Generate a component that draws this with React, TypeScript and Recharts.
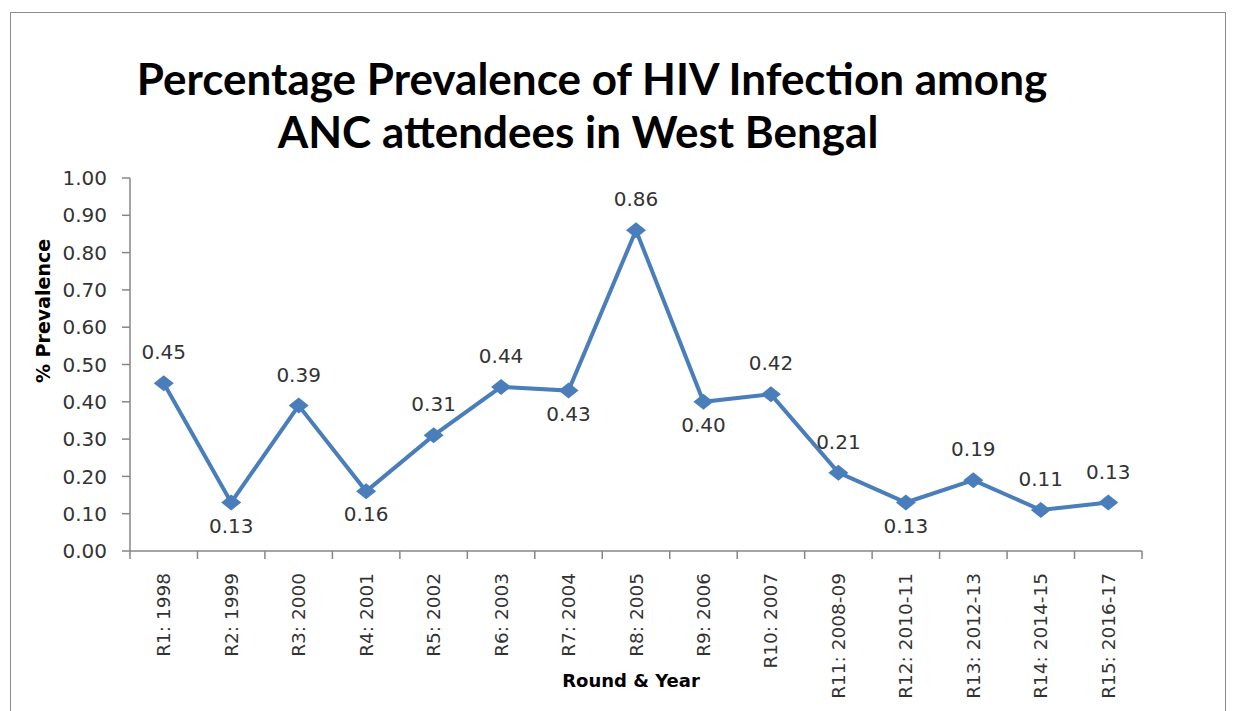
import React from "react";
import { LineChart, Line, XAxis, YAxis, LabelList, Label } from "recharts";

const ROUNDS = [
  "R1: 1998",
  "R2: 1999",
  "R3: 2000",
  "R4: 2001",
  "R5: 2002",
  "R6: 2003",
  "R7: 2004",
  "R8: 2005",
  "R9: 2006",
  "R10: 2007",
  "R11: 2008-09",
  "R12: 2010-11",
  "R13: 2012-13",
  "R14: 2014-15",
  "R15: 2016-17",
];
const PREVALENCE = [
  0.45, 0.13, 0.39, 0.16, 0.31, 0.44, 0.43, 0.86, 0.4, 0.42, 0.21, 0.13, 0.19,
  0.11, 0.13,
];
const Y_TICKS = [0, 0.1, 0.2, 0.3, 0.4, 0.5, 0.6, 0.7, 0.8, 0.9, 1.0];
// points whose value label sits under the marker instead of above it
const LABELS_BELOW = [1, 3, 6, 8, 11];

const data = ROUNDS.map((round, i) => ({ round, value: PREVALENCE[i] }));

const BLUE = "#4a7ebb";
const AXIS_GREY = "#868686";
const TEXT = "#333333";

const W = 1241;
const H = 711;
const PLOT_LEFT = 130;
const PLOT_RIGHT = 1142;
const HALF_STEP = (PLOT_RIGHT - PLOT_LEFT) / ROUNDS.length / 2;
const TICK_SIZE = 8;
const TICK_MARGIN = 14;

const titleStyle: React.CSSProperties = {
  position: "absolute",
  left: 0,
  textAlign: "center",
  fontFamily: "Lato",
  fontWeight: 700,
  fontSize: 44,
  lineHeight: "52px",
  color: "#000",
  whiteSpace: "nowrap",
};

function RoundTick(props: any) {
  const { x, y, payload, index } = props;
  const top = y - TICK_MARGIN - TICK_SIZE;
  const last = index === ROUNDS.length - 1;
  return (
    <g>
      <line x1={x - HALF_STEP} y1={top} x2={x - HALF_STEP} y2={top + TICK_SIZE} stroke={AXIS_GREY} strokeWidth={1.5} />
      {last && (
        <line x1={x + HALF_STEP} y1={top} x2={x + HALF_STEP} y2={top + TICK_SIZE} stroke={AXIS_GREY} strokeWidth={1.5} />
      )}
      <text
        x={x}
        y={y}
        transform={`rotate(-90, ${x}, ${y})`}
        textAnchor="end"
        dominantBaseline="central"
        fontFamily="DejaVu Sans"
        fontSize={18.5}
        fill={TEXT}
      >
        {payload.value}
      </text>
    </g>
  );
}

function Diamond(props: any) {
  const { cx, cy, index } = props;
  if (cx == null || cy == null) return null;
  return (
    <polygon
      key={`d-${index}`}
      points={`${cx},${cy - 8} ${cx + 10},${cy} ${cx},${cy + 8} ${cx - 10},${cy}`}
      fill={BLUE}
    />
  );
}

function ValueLabel(props: any) {
  const { x, y, value, index } = props;
  const below = LABELS_BELOW.includes(index);
  return (
    <text
      x={x}
      y={below ? y + 30 : y - 24}
      textAnchor="middle"
      fontFamily="DejaVu Sans"
      fontSize={20}
      fill={TEXT}
    >
      {Number(value).toFixed(2)}
    </text>
  );
}

export default function App() {
  return (
    <div style={{ position: "absolute", left: 0, top: 0, width: W, height: H, overflow: "hidden", background: "#fff" }}>
      <div
        style={{
          position: "absolute",
          left: 10,
          top: 12,
          width: 1214,
          height: 760,
          border: "1.5px solid #8c8c8c",
        }}
      />
      <div style={{ ...titleStyle, top: 52, width: 1184 }}>
        Percentage Prevalence of HIV Infection among
      </div>
      <div style={{ ...titleStyle, top: 105, width: 1156 }}>
        ANC attendees in West Bengal
      </div>
      <div style={{ position: "absolute", left: 0, top: 0 }}>
        <LineChart
          width={W}
          height={H}
          data={data}
          margin={{ top: 178, right: W - PLOT_RIGHT, left: PLOT_LEFT - 80, bottom: 0 }}
        >
          <XAxis
            dataKey="round"
            height={160}
            interval={0}
            padding={{ left: HALF_STEP, right: HALF_STEP }}
            tickLine={false}
            tickSize={TICK_SIZE}
            tickMargin={TICK_MARGIN}
            axisLine={{ stroke: AXIS_GREY, strokeWidth: 1.5 }}
            tick={<RoundTick />}
          >
            <Label
              content={() => (
                <text x={631} y={687} textAnchor="middle" fontFamily="DejaVu Sans" fontWeight="bold" fontSize={18} fill="#000">
                  Round &amp; Year
                </text>
              )}
            />
          </XAxis>
          <YAxis
            width={80}
            domain={[0, 1]}
            ticks={Y_TICKS}
            interval={0}
            tickFormatter={(v: number) => v.toFixed(2)}
            tickSize={TICK_SIZE}
            tickMargin={15}
            axisLine={{ stroke: AXIS_GREY, strokeWidth: 1.5 }}
            tickLine={{ stroke: AXIS_GREY, strokeWidth: 1.5 }}
            tick={{ fontFamily: "DejaVu Sans", fontSize: 20, fill: TEXT }}
          >
            <Label
              content={() => (
                <text
                  x={43}
                  y={311}
                  transform="rotate(-90, 43, 311)"
                  textAnchor="middle"
                  dominantBaseline="central"
                  fontFamily="DejaVu Sans"
                  fontWeight="bold"
                  fontSize={19}
                  fill="#000"
                >
                  % Prevalence
                </text>
              )}
            />
          </YAxis>
          <Line
            type="linear"
            dataKey="value"
            stroke={BLUE}
            strokeWidth={4}
            dot={<Diamond />}
            activeDot={false}
            isAnimationActive={false}
          >
            <LabelList dataKey="value" content={<ValueLabel />} />
          </Line>
        </LineChart>
      </div>
    </div>
  );
}
